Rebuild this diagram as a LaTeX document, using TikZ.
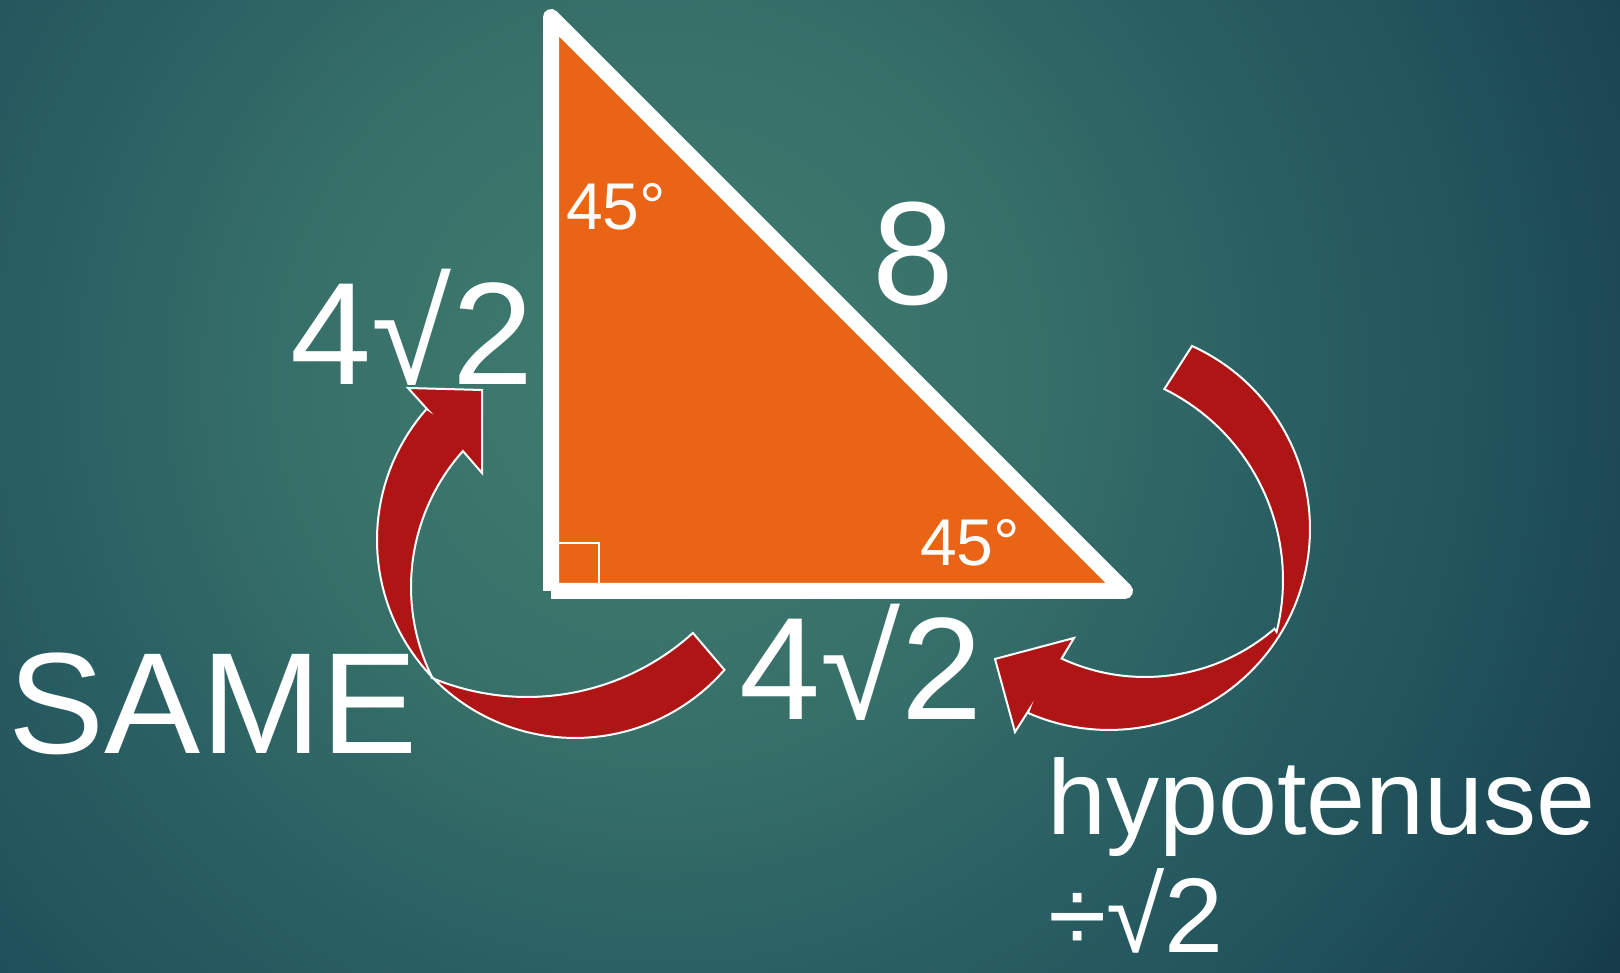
\documentclass[tikz,border=0pt]{standalone}
\usepackage{fontspec}
\setmainfont{Liberation Sans}
\definecolor{tri}{RGB}{233,100,20}
\definecolor{arrowred}{RGB}{175,21,21}
\definecolor{bgA}{RGB}{64,125,112}
\definecolor{bgB}{RGB}{55,112,105}
\definecolor{bgC}{RGB}{41,94,98}
\definecolor{bgD}{RGB}{34,84,92}
\definecolor{bgE}{RGB}{25,66,80}
\definecolor{bgF}{RGB}{19,54,69}
% 1bp = 40px for a 2000px shaded box
\pgfdeclareradialshading{bgshade}{\pgfpoint{0bp}{0bp}}{color(0bp)=(bgA); color(9bp)=(bgB); color(16bp)=(bgC); color(20.5bp)=(bgD); color(26.5bp)=(bgE); color(29bp)=(bgF); color(50bp)=(bgF)}
\newcommand\fsz[1]{\fontsize{#1}{#1}\selectfont}
\tikzset{
  lbl/.style={text=white, inner sep=0pt, outer sep=0pt, anchor=base},
  lblw/.style={text=white, inner sep=0pt, outer sep=0pt, anchor=base west},
  bigarrow/.style={fill=arrowred, draw=white, line width=0.2mm, line join=miter},
  triedge/.style={draw=white, line width=1.6mm, line join=round, line cap=butt},
  rightmark/.style={draw=white, line width=0.2mm}
}
\begin{document}
\begin{tikzpicture}[x=0.1mm,y=-0.1mm]
\useasboundingbox (0,0) rectangle (1620,973);
% background
\begin{scope}
\clip (0,0) rectangle (1620,973);
\shade[shading=bgshade] (-340,-620) rectangle (1660,1380);
\end{scope}

% left curved arrow (circular arcs, band twists at the crossing)
\filldraw[bigarrow]
  plot[domain=47.8:112.7, samples=40] ({527+247*cos(\x)}, {450+247*sin(\x)})
  -- plot[domain=153.8:221.8, samples=40] ({615+204*cos(\x)}, {587+204*sin(\x)})
  -- (482,473) -- (482,390) -- (408,388) -- (427,409)
  -- plot[domain=0:180.5, samples=80] ({575+198*cos(221.5-\x)}, {540+198*sin(221.5-\x)})
  -- cycle;

% right curved arrow
\filldraw[bigarrow]
  plot[domain=-63.7:14.1, samples=40] ({1070+213*cos(\x)}, {580+213*sin(\x)})
  -- plot[domain=49.2:114.9, samples=40] ({1145+198*cos(\x)}, {479+198*sin(\x)})
  -- (1074,638) -- (995,659) -- (1015,732) -- (1029,710)
  -- plot[domain=0:179.4, samples=80] ({1109+201*cos(113.8-\x)}, {529+201*sin(113.8-\x)})
  -- cycle;

% triangle
\coordinate (apex) at (551,17);
\coordinate (corner) at (551,591);
\coordinate (tipR) at (1125,591);
\fill[tri] (apex) -- (tipR) -- (corner) -- cycle;
\draw[triedge] (corner) -- (apex) -- (tipR) -- (corner);
\coordinate (sqA) at (559,543);
\coordinate (sqB) at (599,543);
\coordinate (sqC) at (599,583);
\draw[rightmark] (sqA) -- (sqB) -- (sqC);

% labels
\node[lbl] (angTop) at (616,230) {\fsz{18.8pt}45°};
\node[lbl] (angBot) at (970,566) {\fsz{18.8pt}45°};
\node[lbl] (hyp) at (913,305) {\fsz{41.8pt}8};
\node[lbl] (legL) at (412,385) {\fsz{41.5pt}4√2};
\node[lbl] (legB) at (861,720) {\fsz{41.5pt}4√2};
\node[lbl] (same) at (213,754) {\fsz{41pt}SAME};
\node[lblw] (hypword) at (1047,835) {\fsz{30.2pt}hypotenuse};
\node[lblw] (divide) at (1048,953) {\fsz{30.2pt}÷√2};
\end{tikzpicture}
\end{document}
